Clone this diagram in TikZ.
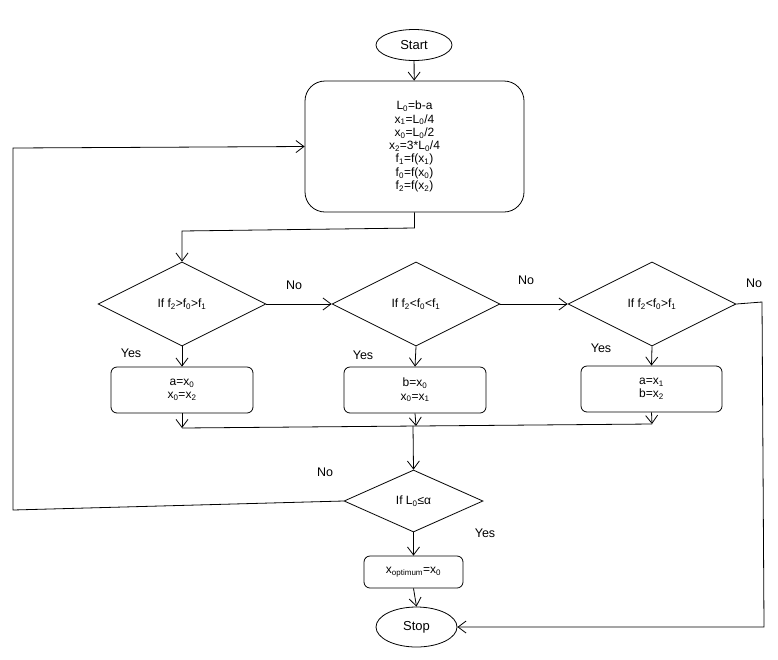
\documentclass[tikz,border=0pt]{standalone}
\usepackage{fontspec}
\setmainfont{Liberation Sans}
\usetikzlibrary{shapes.geometric,arrows.meta}
\newcommand{\ssb}[1]{\textsubscript{#1}}
\begin{document}
\begin{tikzpicture}[x=1pt,y=-1pt,line width=0.8pt,
 arr/.style={-{Straight Barb[length=8pt,width=12pt,line width=0.8pt]}},
 term/.style={draw,ellipse,inner sep=0pt,font=\fontsize{13}{15}\selectfont},
 proc/.style={draw,rounded corners=6pt,inner sep=0pt,font=\fontsize{12}{13.3}\selectfont,align=center},
 dec/.style={draw,diamond,inner sep=0pt,font=\fontsize{12}{14}\selectfont},
 lbl/.style={font=\fontsize{12.5}{14}\selectfont}]
\useasboundingbox (0,0) rectangle (778,659);
\node[term,minimum width=76pt,minimum height=31pt] (start) at (414,45) {Start};
\node[proc,rounded corners=20pt,minimum width=219pt,minimum height=131pt] (init) at (414.5,146.5)
 {L\ssb{0}=b-a\\x\ssb{1}=L\ssb{0}/4\\x\ssb{0}=L\ssb{0}/2\\x\ssb{2}=3*L\ssb{0}/4\\f\ssb{1}=f(x\ssb{1})\\f\ssb{0}=f(x\ssb{0})\\f\ssb{2}=f(x\ssb{2})};
\node[dec,minimum width=168pt,minimum height=84pt] (d1) at (182,304) {If f\ssb{2}>f\ssb{0}>f\ssb{1}};
\node[dec,minimum width=168pt,minimum height=84pt] (d2) at (416,304) {If f\ssb{2}<f\ssb{0}<f\ssb{1}};
\node[dec,minimum width=168pt,minimum height=84pt] (d3) at (652,304) {If f\ssb{2}<f\ssb{0}>f\ssb{1}};
\node[proc,minimum width=142pt,minimum height=46pt] (b1) at (182,390) {a=x\ssb{0}\\x\ssb{0}=x\ssb{2}};
\node[proc,minimum width=142pt,minimum height=46pt] (b2) at (415,390) {b=x\ssb{0}\\x\ssb{0}=x\ssb{1}};
\node[proc,minimum width=141pt,minimum height=46pt] (b3) at (651.5,389) {a=x\ssb{1}\\b=x\ssb{2}};
\node[dec,minimum width=139pt,minimum height=62pt] (d4) at (413.5,501) {If L\ssb{0}≤α};
\node[proc,minimum width=99pt,minimum height=32pt] (bopt) at (413.5,572) {x\ssb{optimum}=x\ssb{0}};
\node[term,minimum width=81pt,minimum height=40pt] (stop) at (416.5,627) {Stop};
\coordinate (m1) at (182,428);
\coordinate (m2) at (416,426);
\coordinate (m3) at (652,424);
\coordinate (mj) at (413,426);
\draw[arr] (start) -- (init);
\draw[arr] (init.south) -- (414.5,228) -- (182,231) -- (d1.north);
\draw[arr] (d1.east) -- (d2.west);
\draw[arr] (d2.east) -- (d3.west);
\draw[arr] (d3.east) -- (762,302) -- (764,627) -- (stop.east);
\draw[arr] (d1.south) -- (b1.north);
\draw[arr] (d2.south) -- (b2.north);
\draw[arr] (d3.south) -- (b3.north);
\draw[arr] (b1.south) -- (m1);
\draw[arr] (b2.south) -- (m2);
\draw[arr] (b3.south) -- (m3);
\draw (m1) -- (m3);
\draw[arr] (mj) -- (d4.north);
\draw[arr] (d4.west) -- (13,510) -- (13,148) -- (init.west);
\draw[arr] (d4.south) -- (bopt.north);
\draw[arr] (bopt.south) -- (stop.north);
\node[lbl] (n1) at (294,285) {No};
\node[lbl] (n2) at (526,280) {No};
\node[lbl] (n3) at (754,283) {No};
\node[lbl] (n4) at (325,472) {No};
\node[lbl] (y1) at (131,353) {Yes};
\node[lbl] (y2) at (363,355) {Yes};
\node[lbl] (y3) at (601,348) {Yes};
\node[lbl] (y4) at (485,533) {Yes};
\end{tikzpicture}
\end{document}
